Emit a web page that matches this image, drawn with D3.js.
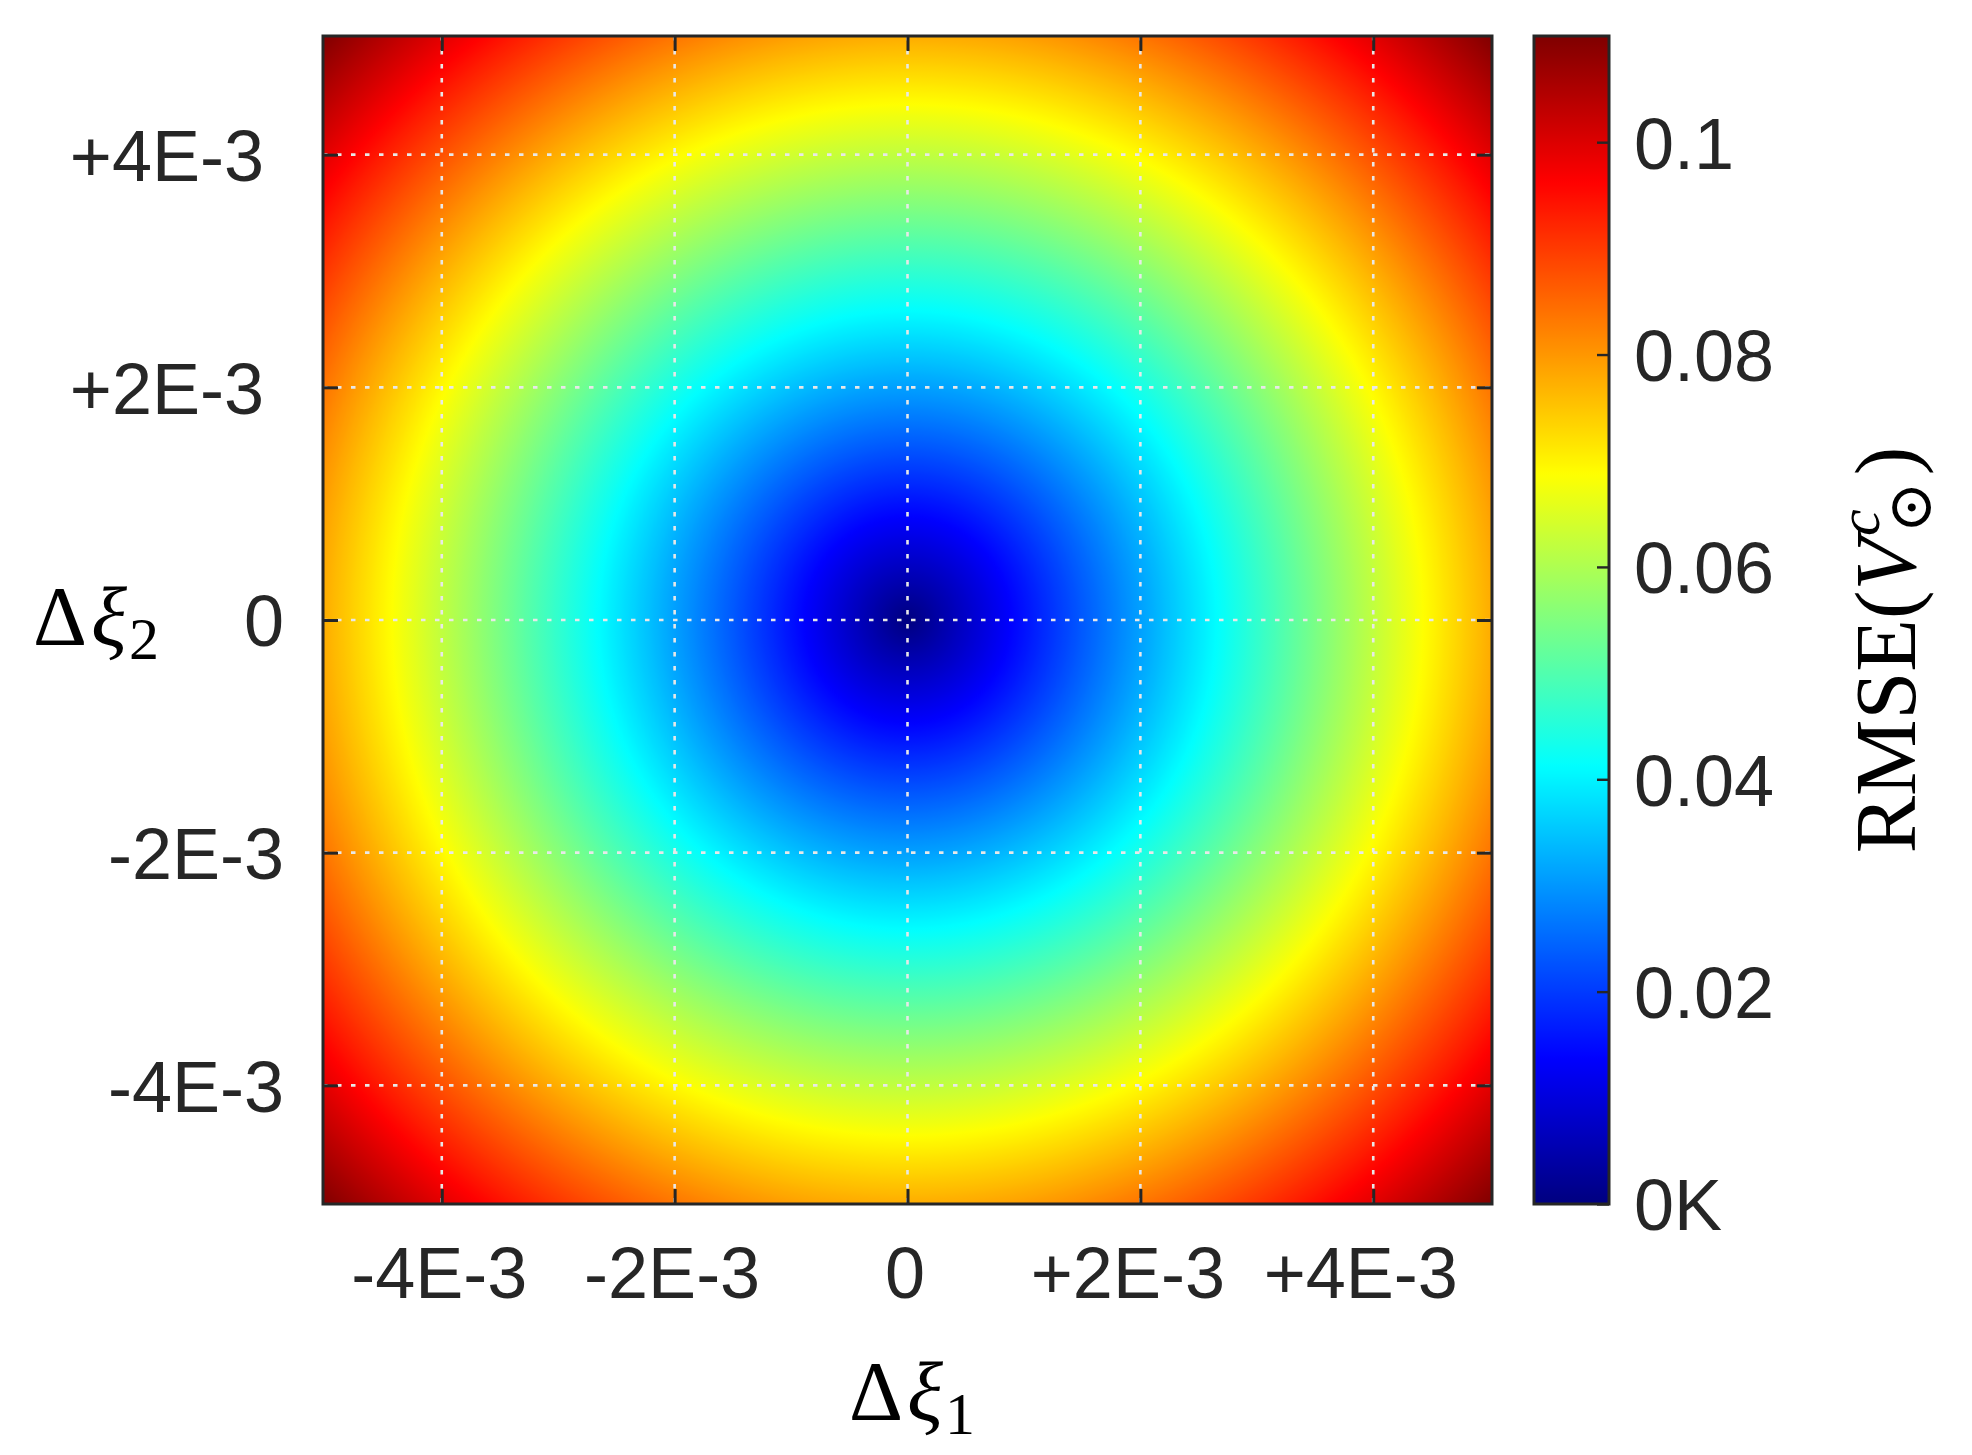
<!DOCTYPE html>
<html>
<head>
<meta charset="utf-8">
<script src="https://cdn.jsdelivr.net/npm/d3@7"></script>
<style>
  html, body { margin: 0; padding: 0; background: #fff; }
  svg { display: block; }
  .tick text, .lbl { font-family: "Liberation Sans", Arial, Helvetica, sans-serif; }
  .math { font-family: "Liberation Serif", "DejaVu Serif", "Times New Roman", serif; }
</style>
</head>
<body>
<svg id="chart" width="1972" height="1455"></svg>
<script>
// ---------------- data ----------------
const xDomain = [-5.02e-3, 5.02e-3];
const yDomain = [-5.02e-3, 5.02e-3];
const xTicks = [-4e-3, -2e-3, 0, 2e-3, 4e-3];
const xTickLabels = ["-4E-3", "-2E-3", "0", "+2E-3 ", "+4E-3 "];
const yTicks = [-4e-3, -2e-3, 0, 2e-3, 4e-3];
const yTickLabels = ["-4E-3", "-2E-3", "0", "+2E-3 ", "+4E-3 "];
const cbDomain = [0, 0.11];
const cbTicks = [0, 0.02, 0.04, 0.06, 0.08, 0.1];
const cbTickLabels = ["0K", "0.02", "0.04", "0.06", "0.08", "0.1"];
// radial RMSE profile (distance from the origin -> RMSE)
const radius = [0, 0.5e-3, 1e-3, 1.5e-3, 2e-3, 2.5e-3, 3e-3, 3.5e-3, 4e-3, 4.5e-3, 5e-3, 5.5e-3, 6e-3, 6.5e-3, 7e-3, 7.5e-3];
const rmse   = [0, 0.0078, 0.0155, 0.0233, 0.031, 0.0388, 0.0465, 0.0543, 0.062, 0.0698, 0.0775, 0.0853, 0.093, 0.1008, 0.1085, 0.1163];

// ---------------- layout ----------------
const P = { left: 323, right: 1492, top: 36, bottom: 1204 };
const CB = { left: 1534, right: 1609 };
const ink = "#262626";
const FS = 72;

const svg = d3.select("#chart");
const defs = svg.append("defs");

const x = d3.scaleLinear().domain(xDomain).range([P.left, P.right]);
const y = d3.scaleLinear().domain(yDomain).range([P.bottom, P.top]);
const cbY = d3.scaleLinear().domain(cbDomain).range([P.bottom, P.top]);

function jet(t) {
  t = Math.max(0, Math.min(1, t));
  const c = v => Math.max(0, Math.min(1, v));
  const r = c(1.5 - Math.abs(4 * t - 3));
  const g = c(1.5 - Math.abs(4 * t - 2));
  const b = c(1.5 - Math.abs(4 * t - 1));
  return d3.rgb(r * 255, g * 255, b * 255).formatHex();
}
const color = d3.scaleSequential(jet).domain(cbDomain).clamp(true);
const profile = d3.scaleLinear().domain(radius).range(rmse);

// ---------------- heatmap (radial field) ----------------
const rMax = radius[radius.length - 1];
const rg = defs.append("radialGradient")
  .attr("id", "field")
  .attr("gradientUnits", "userSpaceOnUse")
  .attr("cx", x(0)).attr("cy", y(0))
  .attr("r", x(rMax) - x(0));
const NS = 300;
d3.range(NS + 1).forEach(i => {
  const rr = rMax * i / NS;
  rg.append("stop").attr("offset", i / NS).attr("stop-color", color(profile(rr)));
});
defs.append("clipPath").attr("id", "plotClip")
  .append("rect").attr("x", P.left).attr("y", P.top)
  .attr("width", P.right - P.left).attr("height", P.bottom - P.top);

svg.append("rect")
  .attr("x", P.left).attr("y", P.top)
  .attr("width", P.right - P.left).attr("height", P.bottom - P.top)
  .attr("fill", "url(#field)");

// ---------------- grid ----------------
const grid = svg.append("g").attr("clip-path", "url(#plotClip)")
  .attr("stroke", "#e8e8e8").attr("stroke-width", 2.6).attr("stroke-dasharray", "4.5,9.5");
grid.selectAll(".gx").data(xTicks).join("line")
  .attr("x1", d => x(d)).attr("x2", d => x(d))
  .attr("y1", P.top).attr("y2", P.bottom);
grid.selectAll(".gy").data(yTicks).join("line")
  .attr("y1", d => y(d)).attr("y2", d => y(d))
  .attr("x1", P.left).attr("x2", P.right);

// ---------------- axes ----------------
function styleAxis(g) {
  g.select(".domain").remove();
  g.selectAll(".tick line").attr("stroke", ink).attr("stroke-width", 3);
  g.selectAll(".tick text").attr("fill", ink).attr("font-size", FS)
    .attr("xml:space", "preserve").style("white-space", "pre");
}
const TL = 15;
// bottom
svg.append("g").attr("transform", `translate(0,${P.bottom})`)
  .call(d3.axisBottom(x).tickValues(xTicks).tickFormat((d, i) => xTickLabels[i]).tickSizeInner(-TL).tickSizeOuter(0))
  .call(styleAxis)
  .call(g => g.selectAll(".tick text").attr("x", -3).attr("y", 94).attr("dy", 0));
// top
svg.append("g").attr("transform", `translate(0,${P.top})`)
  .call(d3.axisTop(x).tickValues(xTicks).tickFormat("").tickSizeInner(-TL).tickSizeOuter(0))
  .call(styleAxis);
// left
svg.append("g").attr("transform", `translate(${P.left},0)`)
  .call(d3.axisLeft(y).tickValues(yTicks).tickFormat((d, i) => yTickLabels[i]).tickSizeInner(-TL).tickSizeOuter(0))
  .call(styleAxis)
  .call(g => g.selectAll(".tick text").attr("x", -39).attr("dy", "0.36em"));
// right
svg.append("g").attr("transform", `translate(${P.right},0)`)
  .call(d3.axisRight(y).tickValues(yTicks).tickFormat("").tickSizeInner(-TL).tickSizeOuter(0))
  .call(styleAxis);

svg.append("rect")
  .attr("x", P.left).attr("y", P.top)
  .attr("width", P.right - P.left).attr("height", P.bottom - P.top)
  .attr("fill", "none").attr("stroke", ink).attr("stroke-width", 3);

// ---------------- colorbar ----------------
const lg = defs.append("linearGradient").attr("id", "cbGrad")
  .attr("gradientUnits", "userSpaceOnUse")
  .attr("x1", 0).attr("x2", 0).attr("y1", cbY(cbDomain[0])).attr("y2", cbY(cbDomain[1]));
d3.range(NS + 1).forEach(i => {
  const v = cbDomain[0] + (cbDomain[1] - cbDomain[0]) * i / NS;
  lg.append("stop").attr("offset", i / NS).attr("stop-color", color(v));
});
svg.append("rect")
  .attr("x", CB.left).attr("y", P.top)
  .attr("width", CB.right - CB.left).attr("height", P.bottom - P.top)
  .attr("fill", "url(#cbGrad)");
svg.append("g").attr("transform", `translate(${CB.right},0)`)
  .call(d3.axisRight(cbY).tickValues(cbTicks).tickFormat((d, i) => cbTickLabels[i]).tickSizeInner(-12).tickSizeOuter(0).tickPadding(0))
  .call(styleAxis)
  .call(g => g.selectAll(".tick line").attr("stroke-width", 2.4))
  .call(g => g.selectAll(".tick text").attr("x", 25).attr("dy", "0.36em"));
svg.append("rect")
  .attr("x", CB.left).attr("y", P.top)
  .attr("width", CB.right - CB.left).attr("height", P.bottom - P.top)
  .attr("fill", "none").attr("stroke", ink).attr("stroke-width", 3);

// ---------------- labels ----------------
function xiLabel(g, sub) {
  const t = g.append("text").attr("class", "math").attr("font-size", 84).attr("fill", "#000");
  t.append("tspan").text("Δ");
  t.append("tspan").attr("font-style", "italic").attr("dx", 4).text("ξ");
  t.append("tspan").attr("font-size", 60).attr("dy", 14).attr("dx", 2).text(sub);
  return t;
}
xiLabel(svg.append("g").attr("transform", `translate(849,1420)`), "1");
xiLabel(svg.append("g").attr("transform", `translate(33,645)`), "2");

const cbl = svg.append("text").attr("class", "math").attr("font-size", 86).attr("fill", "#000")
  .attr("text-anchor", "middle")
  .attr("transform", `translate(1915,650) rotate(-90)`);
cbl.append("tspan").text("RMSE(");
cbl.append("tspan").attr("font-style", "italic").text("V");
cbl.append("tspan").attr("font-style", "italic").attr("font-size", 60).attr("dy", -36).attr("dx", 2).text("c");
cbl.append("tspan").attr("font-size", 62).attr("dy", 52).attr("dx", -24).text("⊙");
cbl.append("tspan").attr("dy", -16).attr("dx", 6).text(")");
</script>
</body>
</html>
